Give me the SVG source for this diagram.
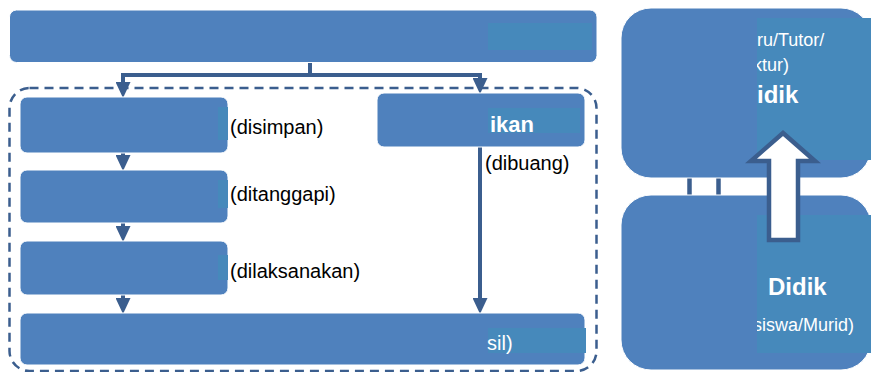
<svg xmlns="http://www.w3.org/2000/svg" width="871" height="372" viewBox="0 0 871 372">
<style>
.box{fill:#4f81bd;stroke:#ffffff;stroke-width:1}
.patch{fill:#4689bb}
.ln{fill:none;stroke:#3b5e8e;stroke-width:4}
.lbl{font-family:"Liberation Sans",Arial,sans-serif;font-size:20px;fill:#000000}
.wt{font-family:"Liberation Sans",Arial,sans-serif;fill:#ffffff}
</style>
<defs>
<marker id="ah" markerUnits="userSpaceOnUse" markerWidth="16" markerHeight="15" viewBox="0 0 16 15" refX="0" refY="7.5" orient="auto">
<path d="M0,0 L16,7.5 L0,15 Z" fill="#3b5e8e"/>
</marker>
<clipPath id="rc"><rect x="757" y="0" width="114" height="372"/></clipPath>
</defs>
<rect x="9.5" y="88" width="587" height="283" rx="20" fill="none" stroke="#3b5e8e" stroke-width="2.5" stroke-dasharray="9 6"/>
<g id="connectors">
<polyline class="ln" points="310,62 310,75 123,75 123,82" marker-end="url(#ah)"/>
<polyline class="ln" points="310,75 480,75 480,78" marker-end="url(#ah)"/>
<line class="ln" x1="123" y1="153" x2="123" y2="155" marker-end="url(#ah)"/>
<line class="ln" x1="123" y1="223" x2="123" y2="226" marker-end="url(#ah)"/>
<line class="ln" x1="123" y1="295" x2="123" y2="298" marker-end="url(#ah)"/>
<line class="ln" x1="480" y1="147" x2="480" y2="298" marker-end="url(#ah)"/>
<line x1="689.5" y1="168" x2="689.5" y2="200" stroke="#3b5e8e" stroke-width="4.5"/>
<line x1="718.5" y1="168" x2="718.5" y2="200" stroke="#3b5e8e" stroke-width="4.5"/>
</g>
<g id="top">
<rect class="box" x="9.5" y="10" width="587.5" height="52.5" rx="7"/>
<rect class="patch" x="488" y="23" width="104" height="27"/>
</g>
<g id="box1">
<rect class="box" x="20" y="97" width="208" height="56" rx="7"/>
<rect class="patch" x="218" y="107" width="10" height="33"/>
<text class="lbl" x="230" y="134">(disimpan)</text>
</g>
<g id="box2">
<rect class="box" x="20" y="170" width="208" height="53" rx="7"/>
<rect class="patch" x="218" y="180" width="10" height="28"/>
<text class="lbl" x="230" y="201">(ditanggapi)</text>
</g>
<g id="box3">
<rect class="box" x="20" y="241" width="208" height="54" rx="7"/>
<rect class="patch" x="218" y="255" width="10" height="25"/>
<text class="lbl" x="230" y="278">(dilaksanakan)</text>
</g>
<g id="box4">
<rect class="box" x="20" y="313" width="565" height="52" rx="7"/>
<rect class="patch" x="488" y="328" width="98" height="25"/>
<text class="wt" x="487" y="350" font-size="20">sil)</text>
</g>
<g id="ikan">
<rect class="box" x="377" y="93" width="208" height="54" rx="7"/>
<rect class="patch" x="488" y="108" width="92" height="25"/>
<text class="wt" x="490" y="132" font-size="22" font-weight="bold">ikan</text>
<text class="lbl" x="485" y="170">(dibuang)</text>
</g>
<g id="pendidik">
<rect class="box" x="621" y="8" width="250" height="170" rx="30"/>
<rect class="patch" x="757" y="18" width="114" height="142"/>
<g clip-path="url(#rc)">
<text class="wt" x="757" y="46" font-size="18">ru/Tutor/</text>
<text class="wt" x="753" y="71" font-size="18">ktur)</text>
<text class="wt" x="757" y="103" font-size="24" font-weight="bold">idik</text>
</g>
</g>
<g id="peserta">
<rect class="box" x="621" y="195" width="250" height="175" rx="30"/>
<rect class="patch" x="757" y="215" width="114" height="138"/>
<g clip-path="url(#rc)">
<text class="wt" x="768" y="295" font-size="24" font-weight="bold">Didik</text>
<text class="wt" x="753" y="331" font-size="18">siswa/Murid)</text>
</g>
</g>
<g id="bigarrow">
<path d="M783,133 L815,161 L798,161 L798,240 L769,240 L769,161 L751,161 Z" fill="#ffffff" stroke="#3b5e8e" stroke-width="4.5" stroke-linejoin="miter"/>
</g>
</svg>
